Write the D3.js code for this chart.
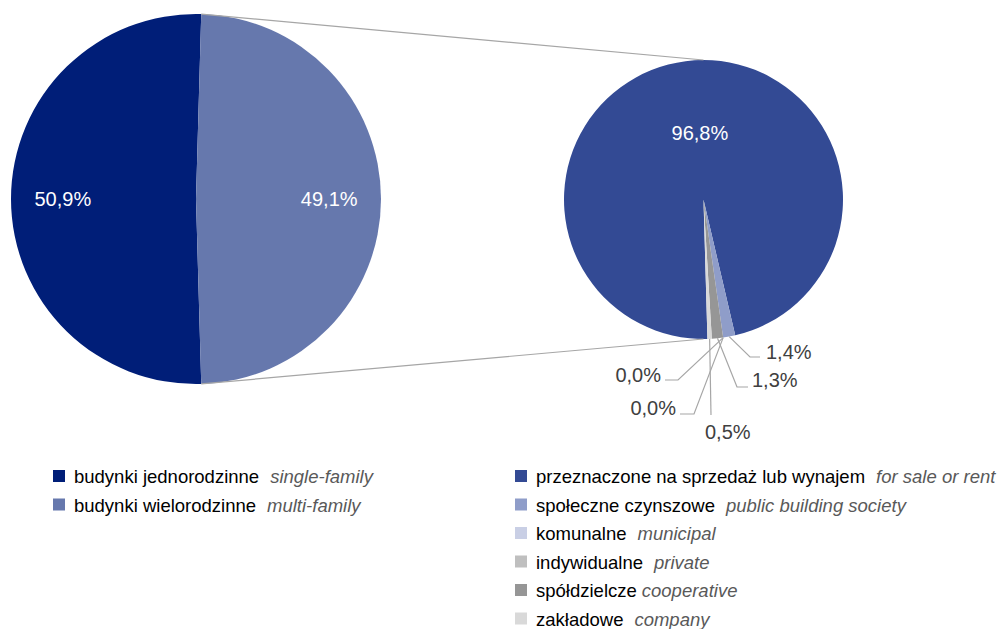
<!DOCTYPE html>
<html><head><meta charset="utf-8">
<script src="https://cdn.jsdelivr.net/npm/d3@7"></script>
<style>
html,body{margin:0;padding:0;background:#fff;}
svg{display:block;font-family:Arial,"Liberation Sans",sans-serif;}
</style></head>
<body><svg id="c" width="1003" height="629"></svg>
<script>
// ---- data ----
const mainCategories = ["budynki jednorodzinne", "budynki wielorodzinne"];
const mainCategoriesEn = ["single-family", "multi-family"];
const mainValues = [50.9, 49.1];
const mainLabels = ["50,9%", "49,1%"];

const subCategories = ["przeznaczone na sprzedaż lub wynajem", "społeczne czynszowe", "komunalne", "indywidualne", "spółdzielcze", "zakładowe"];
const subCategoriesEn = ["for sale or rent", "public building society", "municipal", "private", "cooperative", "company"];
const subValues = [96.8, 1.4, 0.0, 0.0, 1.3, 0.5];
const subLabels = ["96,8%", "1,4%", "0,0%", "0,0%", "1,3%", "0,5%"];

// ---- styles / layout ----
const mainColors = ["#001e78", "#6678ad"];
const subColors = ["#334a94", "#8f9dc9", "#c9cfe5", "#bfbfbf", "#969696", "#d9d9d9"];
const legendGap = [11, 11, 11, 11, 5, 11];
const startDeg = 178.38;
const big = {cx: 196, cy: 199, r: 185};
const small = {cx: 703.5, cy: 199.5, r: 139.5};
// leader layout for the small-slice labels (relative to small pie centre)
const subLabelLayout = [
  null,
  {ex: 46.5, ey: 157.5, lx: 56.5, ly: 157.5, tx: 62.5, ty: 152.5, anchor: "start"},
  {ex: -25.5, ey: 180.5, lx: -38.5, ly: 180.5, tx: -42.5, ty: 175.5, anchor: "end"},
  {ex: -9.5, ey: 214.5, lx: -23.5, ly: 214.5, tx: -27.5, ty: 208.5, anchor: "end"},
  {ex: 33.5, ey: 187.5, lx: 44.5, ly: 187.5, tx: 48.5, ty: 180.5, anchor: "start"},
  {ex: 7.5, ey: 215.5, lx: 7.5, ly: 215.5, tx: 1.5, ty: 232.5, anchor: "start"}
];

const svg = d3.select("#c");
const rad = d => d * Math.PI / 180;
const FS = 18.5;
const LFS = 20;

function pieGen() {
  return d3.pie().sort(null).value(d => d)
    .startAngle(rad(startDeg)).endAngle(rad(startDeg) + 2 * Math.PI);
}
const pt = (p, a, r) => [p.cx + r * Math.sin(a), p.cy - r * Math.cos(a)];

// big pie
const bigArcs = pieGen()(mainValues);
const bigArc = d3.arc().innerRadius(0).outerRadius(big.r);
const gB = svg.append("g").attr("transform", `translate(${big.cx},${big.cy})`);
gB.selectAll("path").data(bigArcs).join("path")
  .attr("d", bigArc).attr("fill", (d, i) => mainColors[i]);
const bigLabArc = d3.arc().innerRadius(big.r * 0.72).outerRadius(big.r * 0.72);
gB.selectAll("text").data(bigArcs).join("text")
  .attr("x", d => bigLabArc.centroid(d)[0]).attr("y", d => bigLabArc.centroid(d)[1])
  .attr("text-anchor", "middle").attr("dominant-baseline", "central")
  .attr("fill", "#fff").attr("font-size", LFS).text((d, i) => mainLabels[i]);

// small pie
const subArcs = pieGen()(subValues);
const smallArc = d3.arc().innerRadius(0).outerRadius(small.r);
const gS = svg.append("g").attr("transform", `translate(${small.cx},${small.cy})`);
gS.selectAll("path").data(subArcs).join("path")
  .attr("d", smallArc).attr("fill", (d, i) => subColors[i]);

// connector lines between pies
const split = bigArcs[1];
const conn = [
  [pt(big, split.startAngle, big.r), pt(small, 0, small.r)],
  [pt(big, split.endAngle, big.r), pt(small, Math.PI, small.r)]
];
svg.selectAll("line.conn").data(conn).join("line").attr("class", "conn")
  .attr("x1", d => d[0][0]).attr("y1", d => d[0][1])
  .attr("x2", d => d[1][0]).attr("y2", d => d[1][1])
  .attr("stroke", "#a6a6a6").attr("stroke-width", 1.2);

// main label of small pie
const smallLabArc = d3.arc().innerRadius(small.r * 0.48).outerRadius(small.r * 0.48);
gS.append("text")
  .attr("x", smallLabArc.centroid(subArcs[0])[0] + 5).attr("y", smallLabArc.centroid(subArcs[0])[1])
  .attr("text-anchor", "middle").attr("dominant-baseline", "central")
  .attr("fill", "#fff").attr("font-size", LFS).text(subLabels[0]);

// small slice labels with leaders
subArcs.forEach((d, i) => {
  const L = subLabelLayout[i];
  if (!L) return;
  const a = (d.startAngle + d.endAngle) / 2;
  const s = [small.r * Math.sin(a), -small.r * Math.cos(a)];
  gS.append("polyline")
    .attr("points", [s, [L.ex, L.ey], [L.lx, L.ly]].map(p => p.join(",")).join(" "))
    .attr("fill", "none").attr("stroke", "#a6a6a6").attr("stroke-width", 1.2);
  gS.append("text").attr("x", L.tx).attr("y", L.ty)
    .attr("text-anchor", L.anchor).attr("dominant-baseline", "central")
    .attr("fill", "#404040").attr("font-size", LFS).text(subLabels[i]);
});

// legends
function legend(x, y0, cats, catsEn, colors, gaps) {
  const step = 28.5;
  const g = svg.append("g");
  cats.forEach((c, i) => {
    const y = y0 + i * step;
    g.append("rect").attr("x", x).attr("y", y - 6).attr("width", 12).attr("height", 12)
      .attr("fill", colors[i]);
    const t = g.append("text").attr("x", x + 21).attr("y", y)
      .attr("dominant-baseline", "central").attr("font-size", FS);
    t.append("tspan").attr("fill", "#000").text(c);
    t.append("tspan").attr("dx", gaps[i]).attr("fill", "#595959")
      .attr("font-style", "italic").text(catsEn[i]);
  });
}
legend(53, 476, mainCategories, mainCategoriesEn, mainColors, [11, 11]);
legend(515, 476, subCategories, subCategoriesEn, subColors, legendGap);
</script></body></html>
